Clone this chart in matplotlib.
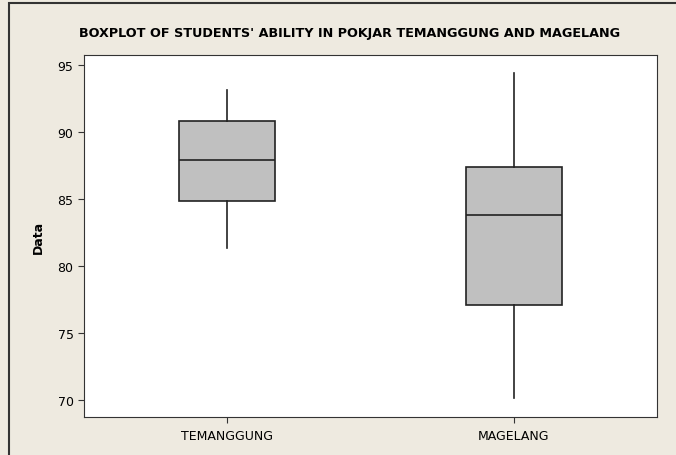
import matplotlib
matplotlib.use("Agg")
import matplotlib.pyplot as plt
from matplotlib.patches import Rectangle

# box statistics
groups = ["TEMANGGUNG", "MAGELANG"]
whisk_low = [81.3, 70.1]
q1 = [84.85, 77.1]
median = [87.9, 83.8]
q3 = [90.8, 87.35]
whisk_high = [93.1, 94.35]

bg = "#EEEAE0"
W, H = 676, 456
fig = plt.figure(figsize=(W / 100, H / 100), dpi=100, facecolor=bg)

# axes placed in pixel terms
left, right, top, bottom = 84, 657, 56, 418
ax = fig.add_axes([left / W, 1 - bottom / H, (right - left) / W, (bottom - top) / H])

stats = []
for i, g in enumerate(groups):
    stats.append(dict(label=g, whislo=whisk_low[i], q1=q1[i], med=median[i],
                      q3=q3[i], whishi=whisk_high[i], fliers=[]))

ax.bxp(stats, positions=[1, 2], widths=0.335, patch_artist=True, showcaps=False,
       boxprops=dict(facecolor="#C0C0C0", edgecolor="#222222", linewidth=1.2),
       medianprops=dict(color="#222222", linewidth=1.2),
       whiskerprops=dict(color="#222222", linewidth=1.2))

ax.set_xlim(0.5, 2.5)
ax.set_ylim(68.71, 95.72)
ax.set_yticks([70, 75, 80, 85, 90, 95])
ax.tick_params(axis="both", labelsize=9, length=4, color="#333333", direction="out")
ax.tick_params(axis="x", pad=5)
ax.set_ylabel("Data", fontsize=9, fontweight="bold", labelpad=9)
for s in ax.spines.values():
    s.set_color("#333333")

fig.text(350 / W, 1 - 33 / H, "BOXPLOT OF STUDENTS' ABILITY IN POKJAR TEMANGGUNG AND MAGELANG",
         ha="center", va="center", fontsize=9.2, fontweight="bold")

# outer frame
fig.patches.append(Rectangle((9 / W, -0.05), 1.0, 1 - 4 / H + 0.05, transform=fig.transFigure,
                             fill=False, edgecolor="#333333", linewidth=1.5))

fig.savefig("out.png", dpi=100, facecolor=bg)
